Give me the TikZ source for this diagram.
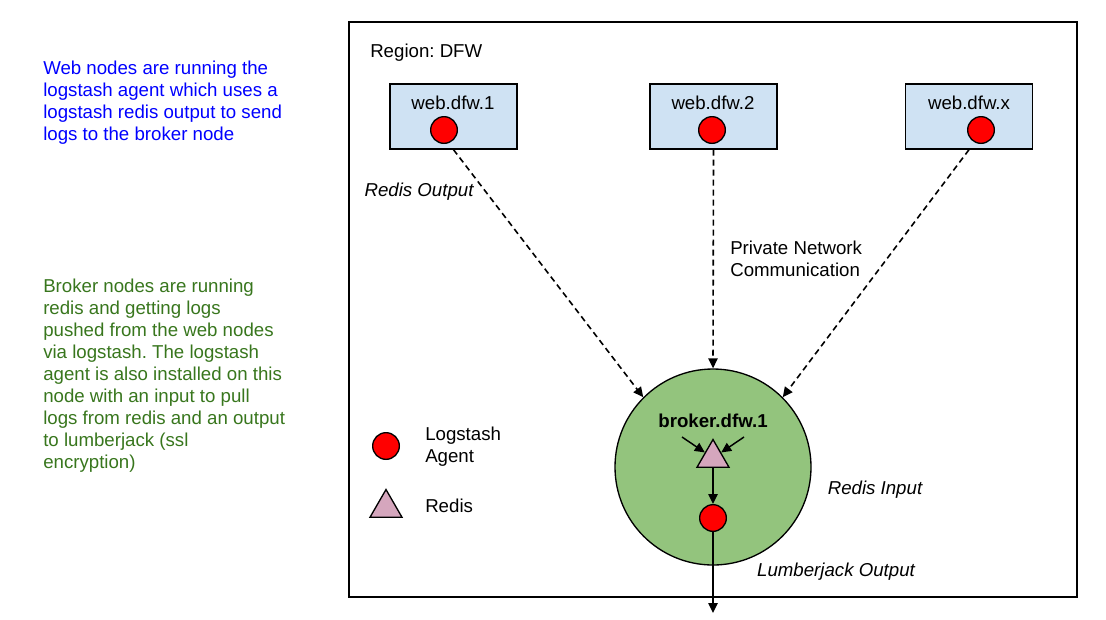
\documentclass[tikz,border=0pt]{standalone}
\usepackage{fontspec}
\setmainfont{Liberation Sans}
\usetikzlibrary{arrows.meta,shapes.geometric}
\definecolor{boxblue}{HTML}{CFE2F3}
\definecolor{brokergreen}{HTML}{93C47D}
\definecolor{redispink}{HTML}{D5A6BD}
\definecolor{notegreen}{HTML}{38761D}
\definecolor{noteblue}{HTML}{0000FF}
\frenchspacing
\tikzset{
  txt/.style={font=\fontsize{14}{16.5}\selectfont, inner sep=0pt},
  webbox/.style={draw, line width=1pt, fill=boxblue, minimum width=95.25pt, minimum height=48.75pt, inner sep=0pt},
  agent/.style={circle, draw, line width=1pt, fill=red, minimum size=20pt, inner sep=0pt},
  redis/.style={regular polygon, regular polygon sides=3, draw, line width=1pt, fill=redispink, minimum size=27.7pt, inner sep=0pt},
  link/.style={-{Triangle[length=7.5pt,width=7pt]}, line width=1.1pt},
  netlink/.style={link, line width=1.2pt, dash pattern=on 4.5pt off 3pt}
}
\begin{document}
\begin{tikzpicture}[x=0.75pt,y=-0.75pt]
  \useasboundingbox (0,0) rectangle (1106,619);

  % Notes on the left
  \node[txt, text=noteblue, align=left, anchor=north west] (webnote) at (43,61)
    {Web nodes are running the\\logstash agent which uses a\\logstash redis output to send\\logs to the broker node};
  \node[txt, text=notegreen, align=left, anchor=north west] (brokernote) at (43,279)
    {Broker nodes are running\\redis and getting logs\\pushed from the web nodes\\via logstash. The logstash\\agent is also installed on this\\node with an input to pull\\logs from redis and an output\\to lumberjack (ssl\\encryption)};

  % Region
  \draw[line width=1.2pt] (349,22) rectangle (1077,597);
  \node[txt, anchor=west] (region) at (370,53) {Region: DFW};

  % Web nodes
  \node[webbox] (w1) at (453.5,116.5) {};
  \node[webbox] (w2) at (713.5,116.5) {};
  \node[webbox] (wx) at (969,116.5) {};
  \node[txt] (w1lbl) at (453,103) {web.dfw.1};
  \node[txt] (w2lbl) at (713,103) {web.dfw.2};
  \node[txt] (wxlbl) at (969,103) {web.dfw.x};
  \node[agent] (a1) at (444,130) {};
  \node[agent] (a2) at (712,130) {};
  \node[agent] (ax) at (981,130) {};

  % Broker
  \node[circle, draw, line width=1pt, fill=brokergreen, minimum size=147pt, inner sep=0pt] (broker) at (713,467) {};
  \node[txt, font=\fontsize{14}{16.5}\selectfont\bfseries] (brokerlbl) at (713,421) {broker.dfw.1};
  \node[redis] (rd) at (713,458) {};
  \node[agent] (ba) at (713,518) {};
  \coordinate (inl) at (682,437);
  \coordinate (inr) at (744,437);
  \coordinate (out) at (713,613);

  % Connections
  \draw[netlink] (w1.south) -- (broker.135);
  \draw[netlink] (w2.south) -- (broker.north);
  \draw[netlink] (wx.south) -- (broker.45);
  \draw[link] (inl) -- (rd);
  \draw[link] (inr) -- (rd);
  \draw[link] (rd.south) -- (ba);
  \draw[link] (ba) -- (out);

  % Labels
  \node[txt, font=\fontsize{14}{16.5}\selectfont\itshape] (redisout) at (419,192) {Redis Output};
  \node[txt, align=left, anchor=west] (private) at (730,259) {Private Network\\Communication};
  \node[txt, font=\fontsize{14}{16.5}\selectfont\itshape] (redisin) at (875,490) {Redis Input};
  \node[txt, font=\fontsize{14}{16.5}\selectfont\itshape] (lumber) at (836,572) {Lumberjack Output};

  % Legend
  \node[agent] (lga) at (386,446) {};
  \node[txt, align=left, anchor=west] (lgatxt) at (425,447) {Logstash\\Agent};
  \node[redis] (lgr) at (386,508) {};
  \node[txt, anchor=west] (lgrtxt) at (425,506) {Redis};
\end{tikzpicture}
\end{document}
